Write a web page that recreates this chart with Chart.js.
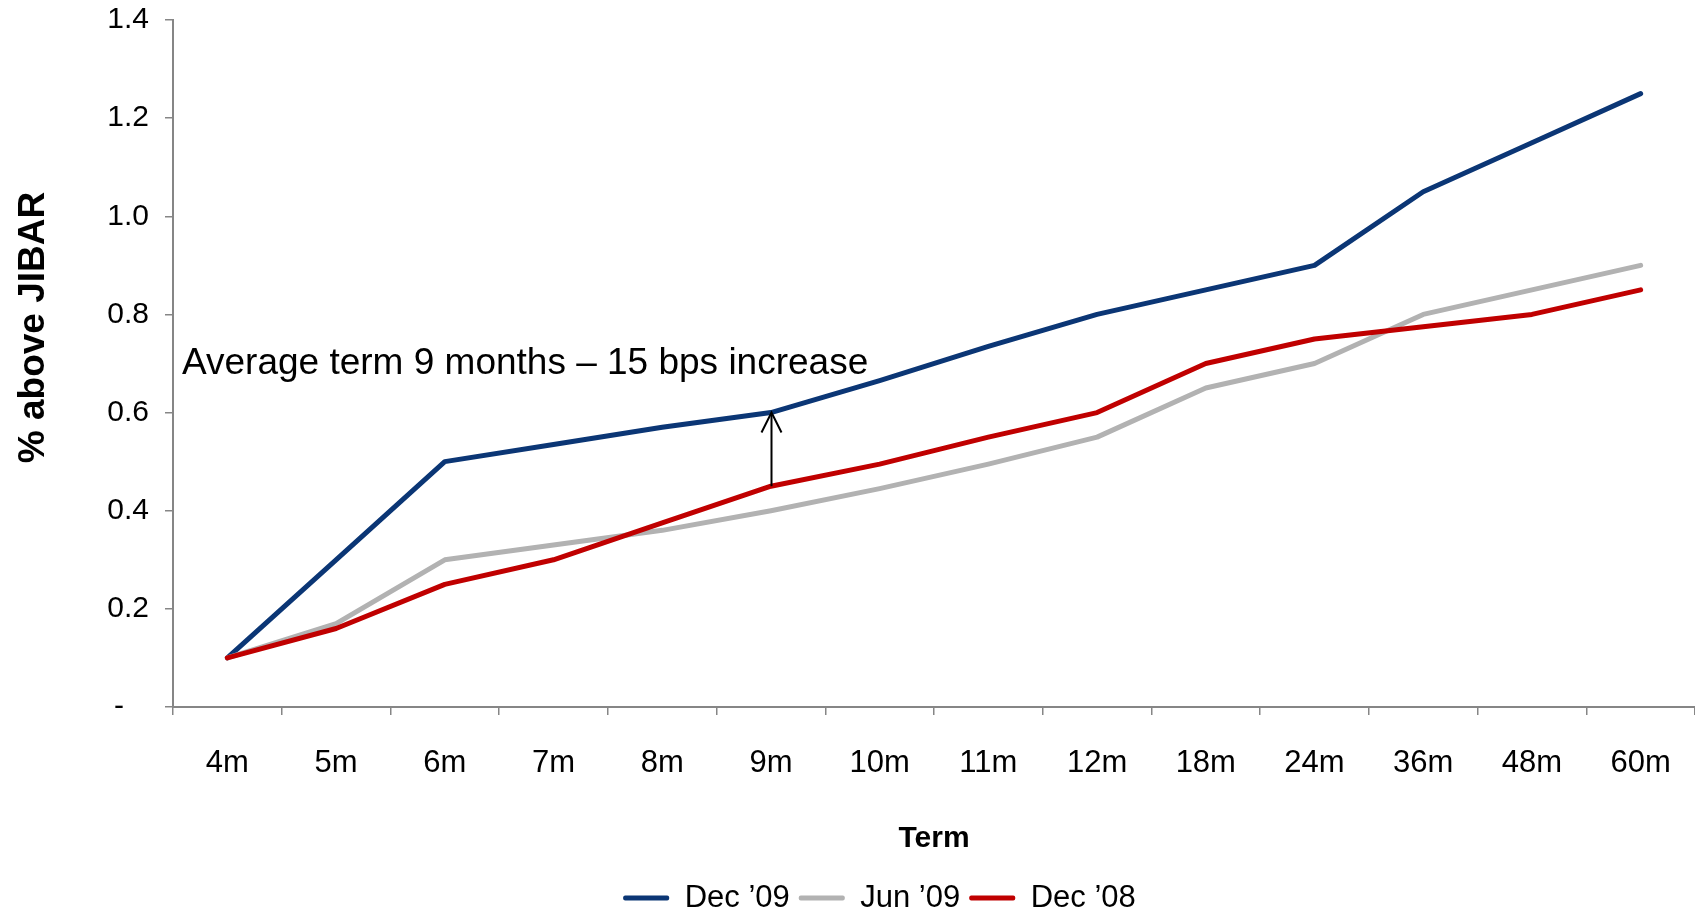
<!DOCTYPE html>
<html>
<head>
<meta charset="utf-8">
<script src="https://cdn.jsdelivr.net/npm/chart.js@4.4.0/dist/chart.umd.min.js"></script>
<style>
  html, body { margin: 0; padding: 0; background: #ffffff; }
  #wrap { width: 1695px; height: 911px; }
</style>
</head>
<body>
<div id="wrap"><canvas id="spreadChart" width="1695" height="911"></canvas></div>
<script>
// Term buckets on the horizontal axis
const terms = ['4m', '5m', '6m', '7m', '8m', '9m', '10m', '11m', '12m', '18m', '24m', '36m', '48m', '60m'];

// Spread above JIBAR (%) per term, one array per curve date
const dec09 = [0.10, 0.30, 0.50, 0.535, 0.57, 0.60, 0.665, 0.735, 0.80, 0.85, 0.90, 1.05, 1.15, 1.25];
const jun09 = [0.10, 0.17, 0.30, 0.33, 0.36, 0.40, 0.445, 0.495, 0.55, 0.65, 0.70, 0.80, 0.85, 0.90];
const dec08 = [0.10, 0.16, 0.25, 0.30, 0.375, 0.45, 0.495, 0.55, 0.60, 0.70, 0.75, 0.775, 0.80, 0.85];

const seriesNames = ['Dec \u201909', 'Jun \u201909', 'Dec \u201908'];
const seriesColors = ['#0B3675', '#B2B2B2', '#C00000'];

// Value-axis range
const yMin = 0;
const yMax = 1.4;
const yStep = 0.2;

// Callout: arrow at the average term between the Dec '08 and Dec '09 curves
const noteText = 'Average term 9 months \u2013 15 bps increase';
const noteTerm = '9m';
const noteLevel = 0.70;

const FONT = "'Liberation Sans', Arial, Helvetica, sans-serif";
const AXIS_GREY = '#868686';

// Draws the callout text and the arrow joining the two curves at the average term
const termNote = {
  id: 'termNote',
  afterDatasetsDraw(chart) {
    const { ctx, chartArea, scales } = chart;
    const xs = scales.x, ys = scales.y;
    const i = terms.indexOf(noteTerm);
    const px = Math.round(xs.getPixelForValue(i)) + 0.5;
    const yFrom = ys.getPixelForValue(dec08[i]);
    const yTo = ys.getPixelForValue(dec09[i]);
    ctx.save();
    ctx.strokeStyle = '#000000';
    ctx.lineWidth = 2;
    ctx.lineCap = 'butt';
    ctx.beginPath();
    ctx.moveTo(px, yFrom);
    ctx.lineTo(px, yTo + 1);
    ctx.stroke();
    ctx.beginPath();
    ctx.moveTo(px - 10, yTo + 20);
    ctx.lineTo(px, yTo);
    ctx.lineTo(px + 10, yTo + 20);
    ctx.stroke();
    ctx.fillStyle = '#000000';
    ctx.font = '37px ' + FONT;
    ctx.textAlign = 'left';
    ctx.textBaseline = 'middle';
    ctx.fillText(noteText, chartArea.left + 9, ys.getPixelForValue(noteLevel));
    ctx.restore();
  }
};

// Places the legend row under the axis title
const legendPlace = {
  id: 'legendPlace',
  afterLayout(chart, args, opts) {
    const lg = chart.legend;
    if (!lg) return;
    const lab = chart.options.plugins.legend.labels;
    const rowMid = lg.top + lab.padding + lab.font.size / 2;
    const dy = opts.rowCenterY - rowMid;
    const dx = opts.shiftX;
    lg.left += dx; lg.right += dx;
    lg.top += dy; lg.bottom += dy;
  }
};

const ctx = document.getElementById('spreadChart').getContext('2d');
new Chart(ctx, {
  type: 'line',
  data: {
    labels: terms,
    datasets: [dec09, jun09, dec08].map((vals, k) => ({
      label: seriesNames[k],
      data: vals,
      borderColor: seriesColors[k],
      backgroundColor: seriesColors[k],
      borderWidth: 5,
      borderCapStyle: 'round',
      borderJoinStyle: 'round',
      pointRadius: 0,
      pointHoverRadius: 0,
      tension: 0,
      fill: false,
      order: 3 - k
    }))
  },
  options: {
    responsive: false,
    animation: false,
    events: [],
    layout: { padding: { top: 20, right: -6, bottom: 0, left: 0 } },
    scales: {
      x: {
        type: 'category',
        offset: true,
        grid: {
          offset: true,
          drawOnChartArea: false,
          drawTicks: true,
          tickLength: 8,
          color: AXIS_GREY,
          lineWidth: 1.5
        },
        border: { display: true, color: AXIS_GREY, width: 2 },
        ticks: {
          color: '#000000',
          font: { family: FONT, size: 31 },
          padding: 30,
          maxRotation: 0,
          autoSkip: false
        },
        title: {
          display: true,
          text: 'Term',
          color: '#000000',
          font: { family: FONT, size: 30, weight: 'bold' },
          padding: { top: 0, bottom: 4 }
        },
        afterFit(scale) {
          const lgH = scale.chart.legend ? scale.chart.legend.height : 0;
          scale.height = 911 - 707 - lgH;
          scale.paddingLeft = 0;
          scale.paddingRight = 0;
        }
      },
      y: {
        min: yMin,
        max: yMax,
        grid: {
          drawOnChartArea: false,
          drawTicks: true,
          tickLength: 8,
          color: AXIS_GREY,
          lineWidth: 1.5
        },
        border: { display: true, color: AXIS_GREY, width: 2 },
        ticks: {
          stepSize: yStep,
          color: '#000000',
          font: { family: FONT, size: 30 },
          padding: 16,
          callback: (v) => (Math.abs(v) < 1e-9 ? '-   ' : Number(v).toFixed(1))
        },
        title: {
          display: true,
          text: '       % above JIBAR',
          color: '#000000',
          font: { family: FONT, size: 37, weight: 'bold' },
          padding: { top: 12, bottom: 0 }
        },
        afterFit(scale) {
          scale.width = 173;
          scale.paddingTop = 0;
          scale.paddingBottom = 0;
        }
      }
    },
    plugins: {
      legend: {
        display: true,
        position: 'bottom',
        labels: {
          color: '#000000',
          font: { family: FONT, size: 31 },
          boxWidth: 46,
          boxHeight: 5,
          padding: 9,
          sort: (a, b) => a.datasetIndex - b.datasetIndex,
          generateLabels(chart) {
            const items = Chart.defaults.plugins.legend.labels.generateLabels(chart);
            return items.map(it => Object.assign(it, {
              lineWidth: 0,
              fillStyle: seriesColors[it.datasetIndex],
              borderRadius: 2
            }));
          }
        }
      },
      legendPlace: { rowCenterY: 898, shiftX: 29 },
      tooltip: { enabled: false }
    }
  },
  plugins: [termNote, legendPlace]
});
</script>
</body>
</html>
